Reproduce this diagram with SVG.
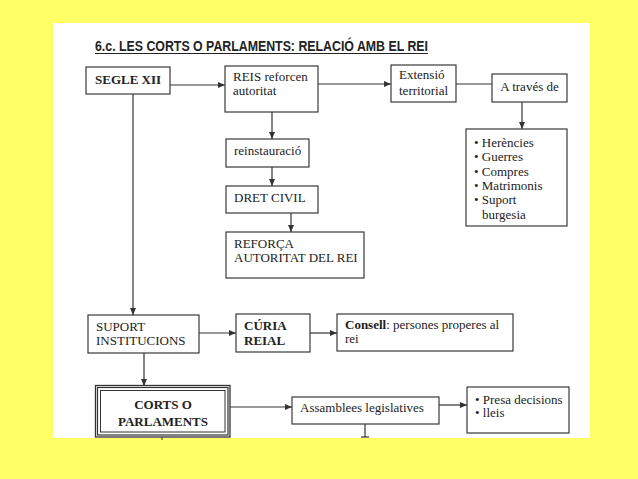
<svg xmlns="http://www.w3.org/2000/svg" width="638" height="479" viewBox="0 0 638 479">
<defs>
<marker id="arr" markerUnits="userSpaceOnUse" markerWidth="8" markerHeight="8" refX="7" refY="4" orient="auto">
<path d="M0,1 L7,4 L0,7 Z" fill="#333"/>
</marker>
<style>
.box{fill:#fff;stroke:#3a3a3a;stroke-width:1.2}
.t{font-family:"Liberation Serif","Times New Roman",serif;font-size:13px;fill:#222}
.b{font-weight:bold}
.ln{stroke:#333;stroke-width:1.2;fill:none}
.ar{marker-end:url(#arr)}
</style>
</defs>
<rect x="0" y="0" width="638" height="479" fill="#FFFF66"/>
<rect x="53" y="23" width="537" height="415" fill="#fff"/>
<g id="title">
<text x="95" y="51" font-family="'Liberation Sans',Arial,sans-serif" font-weight="bold" font-size="14.5" fill="#222" textLength="333" lengthAdjust="spacingAndGlyphs">6.c. LES CORTS O PARLAMENTS: RELACIÓ AMB EL REI</text>
<line x1="95" y1="53.5" x2="428" y2="53.5" stroke="#222" stroke-width="1.2"/>
</g>
<g id="connectors">
<line class="ln ar" x1="170" y1="85" x2="225" y2="85"/>
<line class="ln ar" x1="318" y1="84" x2="391" y2="84"/>
<line class="ln" x1="456" y1="84" x2="492" y2="84"/>
<line class="ln ar" x1="522" y1="102" x2="522" y2="129"/>
<line class="ln ar" x1="272" y1="112" x2="272" y2="139"/>
<line class="ln ar" x1="272" y1="167" x2="272" y2="186"/>
<line class="ln ar" x1="291" y1="213" x2="291" y2="232"/>
<line class="ln ar" x1="133" y1="94" x2="133" y2="315"/>
<line class="ln ar" x1="199" y1="333" x2="236" y2="333"/>
<line class="ln ar" x1="310" y1="333" x2="337" y2="333"/>
<line class="ln ar" x1="144" y1="353" x2="144" y2="386"/>
<line class="ln ar" x1="230" y1="407" x2="292" y2="407"/>
<line class="ln ar" x1="439" y1="405" x2="467" y2="405"/>
<line class="ln" x1="365" y1="424" x2="365" y2="437"/>
<line class="ln" x1="361" y1="437" x2="369" y2="437" stroke-width="1.6"/>
</g>
<g id="segle">
<rect class="box" x="86" y="67" width="84" height="27"/>
<text class="t b" x="95" y="84">SEGLE XII</text>
</g>
<g id="reis">
<rect class="box" x="225" y="66" width="93" height="46"/>
<text class="t" x="233" y="81">REIS reforcen</text>
<text class="t" x="233" y="95">autoritat</text>
</g>
<g id="extensio">
<rect class="box" x="391" y="65" width="65" height="37"/>
<text class="t" x="399" y="79">Extensió</text>
<text class="t" x="399" y="95">territorial</text>
</g>
<g id="atraves">
<rect class="box" x="492" y="74" width="75" height="28"/>
<text class="t" x="529.5" y="91" text-anchor="middle">A través de</text>
</g>
<g id="llista">
<rect class="box" x="466" y="129" width="101" height="97"/>
<text class="t" x="474" y="147">• Herències</text>
<text class="t" x="474" y="161">• Guerres</text>
<text class="t" x="474" y="175.5">• Compres</text>
<text class="t" x="474" y="190">• Matrimonis</text>
<text class="t" x="474" y="204">• Suport</text>
<text class="t" x="482" y="218.5">burgesia</text>
</g>
<g id="reinstauracio">
<rect class="box" x="226" y="139" width="83" height="28"/>
<text class="t" x="234" y="155">reinstauració</text>
</g>
<g id="dretcivil">
<rect class="box" x="226" y="186" width="92" height="27"/>
<text class="t" x="234" y="202">DRET CIVIL</text>
</g>
<g id="reforca">
<rect class="box" x="226" y="232" width="138" height="46"/>
<text class="t" x="234" y="248">REFORÇA</text>
<text class="t" x="234" y="261.5">AUTORITAT DEL REI</text>
</g>
<g id="suport">
<rect class="box" x="88" y="315" width="111" height="38"/>
<text class="t" x="96" y="331">SUPORT</text>
<text class="t" x="96" y="345">INSTITUCIONS</text>
</g>
<g id="curia">
<rect class="box" x="236" y="314" width="74" height="38"/>
<text class="t b" x="244" y="330">CÚRIA</text>
<text class="t b" x="244" y="344.5">REIAL</text>
</g>
<g id="consell">
<rect class="box" x="337" y="314" width="176" height="37"/>
<text class="t" x="345" y="328.5"><tspan font-weight="bold">Consell</tspan>: persones properes al</text>
<text class="t" x="345" y="343">rei</text>
</g>
<g id="corts">
<rect x="95.5" y="385.5" width="134.5" height="51.5" fill="#fff" stroke="#333" stroke-width="1.3"/>
<rect x="97.5" y="387.5" width="130.5" height="47.5" fill="none" stroke="#333" stroke-width="1.2"/>
<rect x="100.5" y="390.5" width="124.5" height="41.5" fill="none" stroke="#333" stroke-width="1"/>
<text class="t b" x="163" y="409" text-anchor="middle" font-size="15.5">CORTS O</text>
<text class="t b" x="163" y="425.5" text-anchor="middle" font-size="15.5">PARLAMENTS</text>
<line x1="162" y1="437" x2="162" y2="440" stroke="#333" stroke-width="1"/>
</g>
<g id="assamblees">
<rect class="box" x="292" y="397" width="147" height="27"/>
<text class="t" x="300" y="412">Assamblees legislatives</text>
</g>
<g id="presa">
<rect class="box" x="467" y="387" width="102" height="46"/>
<text class="t" x="475" y="403.5">• Presa decisions</text>
<text class="t" x="475" y="417">• lleis</text>
</g>
</svg>
